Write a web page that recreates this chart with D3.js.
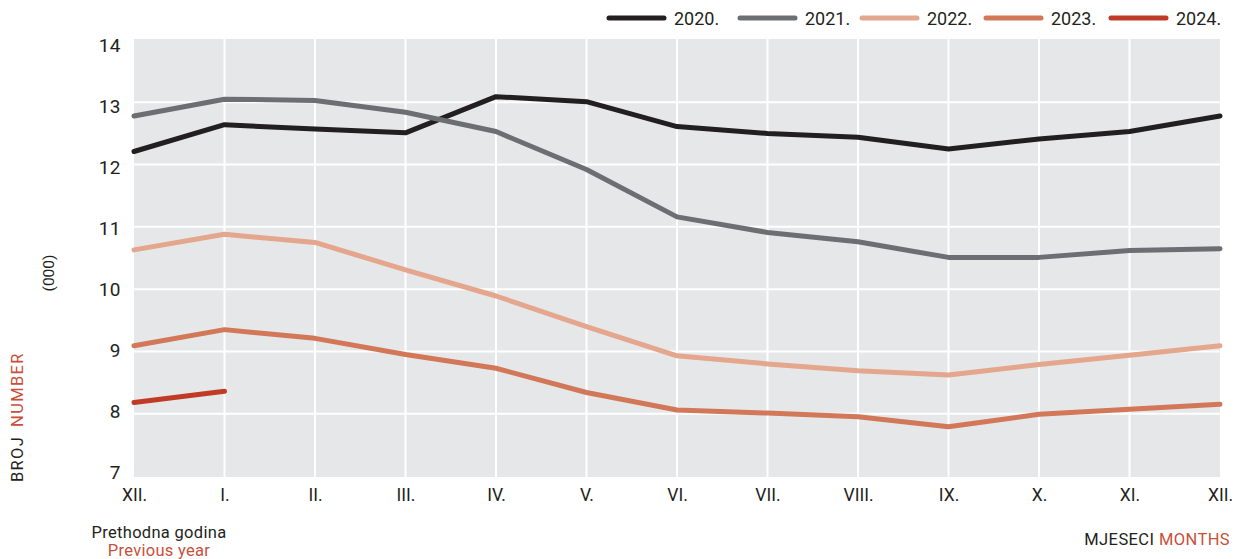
<!DOCTYPE html>
<html>
<head>
<meta charset="utf-8">
<script src="https://cdn.jsdelivr.net/npm/d3@7"></script>
<style>
  html, body { margin: 0; padding: 0; background: #fff; }
  svg { display: block; font-family: Roboto, "DejaVu Sans", sans-serif; }
</style>
</head>
<body>
<svg id="chart" width="1245" height="559"></svg>
<script>
const months = ["XII.", "I.", "II.", "III.", "IV.", "V.", "VI.", "VII.", "VIII.", "IX.", "X.", "XI.", "XII."];
const yTicks = [7, 8, 9, 10, 11, 12, 13, 14];
const seriesNames = ["2020.", "2021.", "2022.", "2023.", "2024."];
const s2020 = [12.21, 12.64, 12.57, 12.51, 13.09, 13.01, 12.61, 12.50, 12.44, 12.25, 12.41, 12.53, 12.78];
const s2021 = [12.78, 13.05, 13.03, 12.84, 12.53, 11.92, 11.16, 10.91, 10.76, 10.51, 10.51, 10.62, 10.65];
const s2022 = [10.63, 10.88, 10.75, 10.31, 9.89, 9.40, 8.93, 8.80, 8.69, 8.62, 8.79, 8.94, 9.09];
const s2023 = [9.09, 9.35, 9.21, 8.95, 8.73, 8.34, 8.06, 8.01, 7.95, 7.79, 7.99, 8.07, 8.15];
const s2024 = [8.18, 8.36];
const colors = ["#231f20", "#6d6e71", "#e4a68c", "#d27858", "#bf3b26"];

const allSeries = [s2020, s2021, s2022, s2023, s2024];

const svg = d3.select("#chart");
const pLeft = 134, pRight = 1220, pTop = 40, pBottom = 476;

const x = d3.scalePoint().domain(d3.range(months.length)).range([pLeft, pRight]);
const y = d3.scaleLinear().domain([7, 14]).range([pBottom, pTop]);
// tick labels in the original sit on a slightly compressed range
const yLabel = d3.scaleLinear().domain([7, 14]).range([472, 45]);

// plot background
svg.append("rect").attr("x", pLeft).attr("y", pTop - 1).attr("width", pRight - pLeft).attr("height", pBottom - pTop + 2)
  .attr("fill", "#e6e7e8");

// grid
svg.append("g").selectAll("line").data(yTicks.slice(1, -1)).join("line")
  .attr("x1", pLeft).attr("x2", pRight).attr("y1", d => y(d)).attr("y2", d => y(d))
  .attr("stroke", "#fff").attr("stroke-width", 2);
svg.append("g").selectAll("line").data(d3.range(1, months.length - 1)).join("line")
  .attr("x1", d => x(d)).attr("x2", d => x(d)).attr("y1", pTop - 1).attr("y2", pBottom + 1)
  .attr("stroke", "#fff").attr("stroke-width", 2);

// y axis
const yAxis = d3.axisLeft(yLabel).tickValues(yTicks).tickSize(0).tickPadding(13).tickFormat(d3.format("d"));
const gy = svg.append("g").attr("transform", `translate(${pLeft},0)`).call(yAxis);
gy.select(".domain").remove();
gy.selectAll("text").attr("font-size", 19).attr("fill", "#231f20").attr("font-family", "Roboto, sans-serif")
  .attr("letter-spacing", 0.5);

// x axis
const xAxis = d3.axisBottom(x).tickSize(0).tickPadding(13).tickFormat(i => months[i]);
const gx = svg.append("g").attr("transform", `translate(0,${pBottom})`).call(xAxis);
gx.select(".domain").remove();
gx.selectAll("text").attr("font-size", 17.5).attr("fill", "#231f20").attr("font-family", "Roboto, sans-serif");

// lines
const line = d3.line().x((d, i) => x(i)).y(d => y(d));
svg.append("g").selectAll("path").data(allSeries).join("path")
  .attr("d", d => line(d))
  .attr("fill", "none")
  .attr("stroke", (d, i) => colors[i])
  .attr("stroke-width", 5)
  .attr("stroke-linejoin", "round")
  .attr("stroke-linecap", "round");

// legend
const legendX = [609, 740, 862, 986, 1111];
const lg = svg.append("g");
seriesNames.forEach((name, i) => {
  lg.append("line").attr("x1", legendX[i]).attr("x2", legendX[i] + 55).attr("y1", 18).attr("y2", 18)
    .attr("stroke", colors[i]).attr("stroke-width", 5).attr("stroke-linecap", "round");
  lg.append("text").attr("x", legendX[i] + 65).attr("y", 25).text(name)
    .attr("font-size", 18).attr("fill", "#231f20");
});

// axis titles
svg.append("text").attr("transform", "translate(54,273) rotate(-90)").attr("text-anchor", "middle")
  .attr("font-size", 15.5).attr("fill", "#231f20").text("(000)");
const t = svg.append("text").attr("transform", "translate(23,482) rotate(-90)").attr("text-anchor", "start")
  .attr("font-size", 16.5).attr("letter-spacing", 1.3);
t.append("tspan").attr("fill", "#231f20").text("BROJ");
t.append("tspan").attr("fill", "#c8503a").attr("dx", 9).text("NUMBER");

svg.append("text").attr("x", 159).attr("y", 538).attr("text-anchor", "middle")
  .attr("font-size", 16.5).attr("letter-spacing", 0.3).attr("fill", "#231f20").text("Prethodna godina");
svg.append("text").attr("x", 159).attr("y", 556).attr("text-anchor", "middle")
  .attr("font-size", 16.5).attr("letter-spacing", 0.3).attr("fill", "#c8503a").text("Previous year");

const m = svg.append("text").attr("x", 1230).attr("y", 545).attr("text-anchor", "end").attr("font-size", 16.5)
  .attr("letter-spacing", 0.4);
m.append("tspan").attr("fill", "#231f20").text("MJESECI ");
m.append("tspan").attr("fill", "#c8503a").text("MONTHS");
</script>
</body>
</html>
